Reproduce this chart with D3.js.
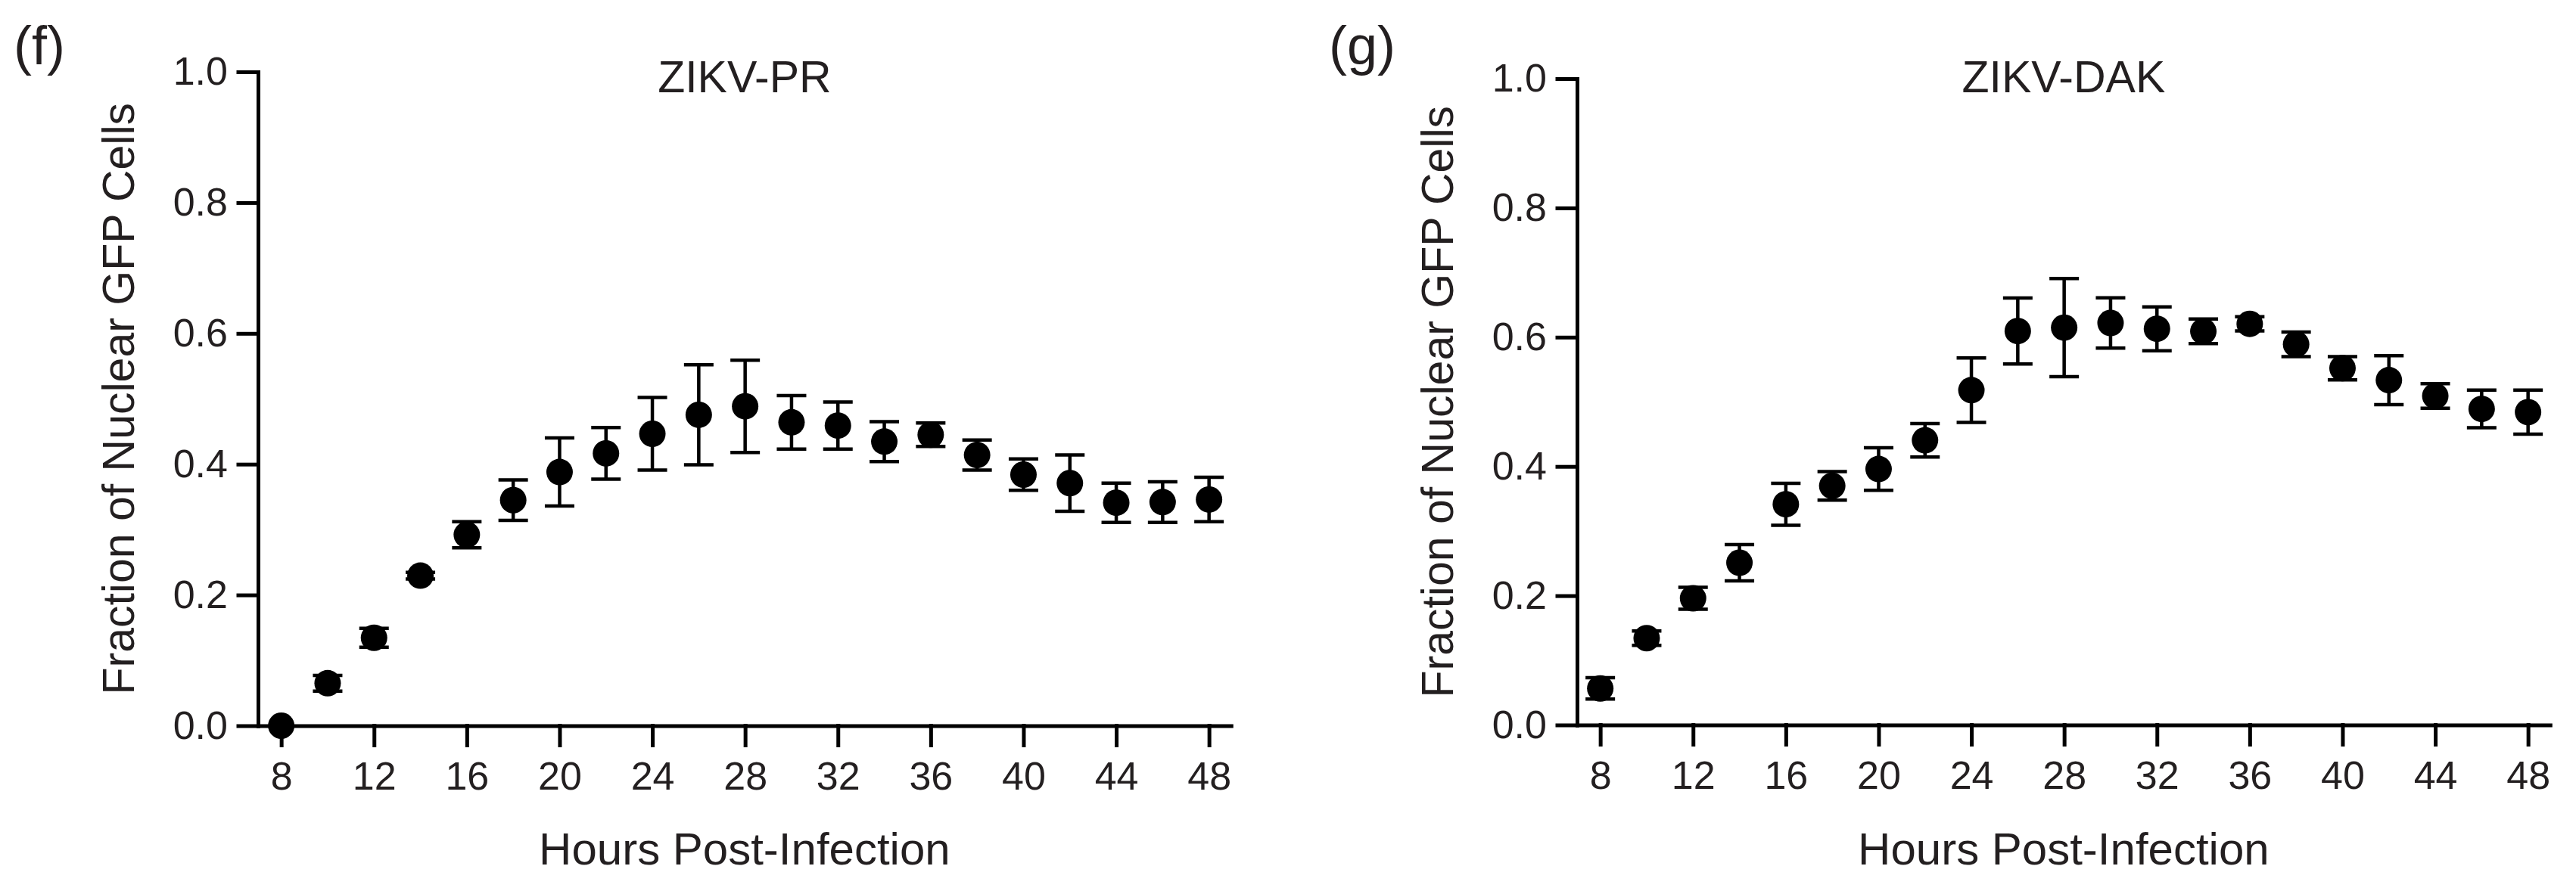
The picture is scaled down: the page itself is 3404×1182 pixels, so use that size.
<!DOCTYPE html>
<html>
<head>
<meta charset="utf-8">
<script src="https://cdn.jsdelivr.net/npm/d3@7"></script>
<style>
  body { margin: 0; background: #fff; }
  text { font-family: "Liberation Sans", Arial, Helvetica, sans-serif; fill: #231f20; }
</style>
</head>
<body>
<script>
var width = 3404, height = 1182;

// hours post-infection
var hours = [8, 10, 12, 14, 16, 18, 20, 22, 24, 26, 28, 30, 32, 34, 36, 38, 40, 42, 44, 46, 48];
var xTicks = [8, 12, 16, 20, 24, 28, 32, 36, 40, 44, 48];
var yTicks = [0, 0.2, 0.4, 0.6, 0.8, 1.0];

// ZIKV-PR : mean fraction and error (half bar)
var prMean = [0.000, 0.065, 0.1345, 0.2295, 0.292, 0.345, 0.388, 0.4165, 0.4465, 0.4755, 0.4885,
              0.464, 0.459, 0.4345, 0.445, 0.414, 0.384, 0.371, 0.341, 0.342, 0.346];
var prErr  = [0.000, 0.012, 0.0145, 0.005, 0.020, 0.031, 0.052, 0.0395, 0.0555, 0.0765, 0.0705,
              0.041, 0.036, 0.0305, 0.018, 0.023, 0.024, 0.043, 0.030, 0.031, 0.034];

// ZIKV-DAK
var dakMean = [0.0565, 0.1343, 0.196, 0.251, 0.3415, 0.370, 0.396, 0.4405, 0.518, 0.6095, 0.6148,
               0.622, 0.613, 0.609, 0.6206, 0.589, 0.552, 0.5335, 0.509, 0.489, 0.484];
var dakErr  = [0.0165, 0.011, 0.017, 0.028, 0.0325, 0.022, 0.033, 0.026, 0.050, 0.051, 0.076,
               0.039, 0.034, 0.019, 0.011, 0.019, 0.018, 0.038, 0.019, 0.029, 0.034];

var svg = d3.select("body")
    .append("svg")
    .attr("width", width)
    .attr("height", height);

function drawPanel(p) {
    var g = svg.append("g");

    var x = d3.scaleLinear().domain([7, 48.95]).range([p.x0, p.x0 + 41.95 * 30.65]);
    var y = d3.scaleLinear().domain([0, 1]).range([p.yBottom, p.yTop]);

    // axes
    var xAxis = g.append("g")
        .attr("transform", "translate(0," + p.yBottom + ")")
        .call(d3.axisBottom(x).tickValues(xTicks).tickSize(26).tickSizeOuter(0).tickPadding(22)
            .tickFormat(d3.format("d")));
    var yAxis = g.append("g")
        .attr("transform", "translate(" + p.x0 + ",0)")
        .call(d3.axisLeft(y).tickValues(yTicks).tickSize(26).tickSizeOuter(0).tickPadding(14)
            .tickFormat(d3.format(".1f")));

    g.selectAll(".domain, .tick line")
        .attr("stroke", "#000")
        .attr("stroke-width", 5)
        .attr("stroke-linecap", "square");
    g.selectAll(".tick text")
        .attr("font-size", 52)
        .attr("font-family", "Liberation Sans, Arial, sans-serif")
        .attr("fill", "#231f20");

    var pts = hours.map(function (h, i) {
        return { h: h, m: p.mean[i], e: p.err[i] };
    });

    // error bars
    var bars = g.append("g").selectAll("g")
        .data(pts)
        .enter()
        .append("g");
    bars.append("line")
        .attr("x1", function (d) { return x(d.h); })
        .attr("x2", function (d) { return x(d.h); })
        .attr("y1", function (d) { return y(d.m - d.e); })
        .attr("y2", function (d) { return y(d.m + d.e); })
        .attr("stroke", "#000").attr("stroke-width", 4.5);
    [-1, 1].forEach(function (s) {
        bars.append("line")
            .attr("x1", function (d) { return x(d.h) - 19.5; })
            .attr("x2", function (d) { return x(d.h) + 19.5; })
            .attr("y1", function (d) { return y(d.m + s * d.e); })
            .attr("y2", function (d) { return y(d.m + s * d.e); })
            .attr("stroke", function (d) { return d.e > 0 ? "#000" : "none"; })
            .attr("stroke-width", 4.5);
    });

    // points
    g.append("g").selectAll("circle")
        .data(pts)
        .enter()
        .append("circle")
        .attr("cx", function (d) { return x(d.h); })
        .attr("cy", function (d) { return y(d.m); })
        .attr("r", 17.5)
        .attr("fill", "#000");

    // texts
    var xMid = (x.range()[0] + x.range()[1]) / 2;
    svg.append("text")
        .attr("x", p.labelX).attr("y", 85)
        .attr("font-size", 72)
        .text(p.label);
    svg.append("text")
        .attr("x", xMid).attr("y", 122)
        .attr("text-anchor", "middle")
        .attr("font-size", 59)
        .text(p.title);
    svg.append("text")
        .attr("x", xMid).attr("y", 1143)
        .attr("text-anchor", "middle")
        .attr("font-size", 60)
        .text("Hours Post-Infection");
    svg.append("text")
        .attr("transform", "translate(" + p.yLabelX + "," + (p.yBottom + p.yTop) / 2 + ") rotate(-90)")
        .attr("text-anchor", "middle")
        .attr("font-size", 59)
        .text("Fraction of Nuclear GFP Cells");
}

drawPanel({ x0: 341, yBottom: 959.5, yTop: 95, mean: prMean, err: prErr,
            label: "(f)", labelX: 18, title: "ZIKV-PR", yLabelX: 177 });
drawPanel({ x0: 2084, yBottom: 958.5, yTop: 104, mean: dakMean, err: dakErr,
            label: "(g)", labelX: 1756, title: "ZIKV-DAK", yLabelX: 1920 });
</script>
</body>
</html>
